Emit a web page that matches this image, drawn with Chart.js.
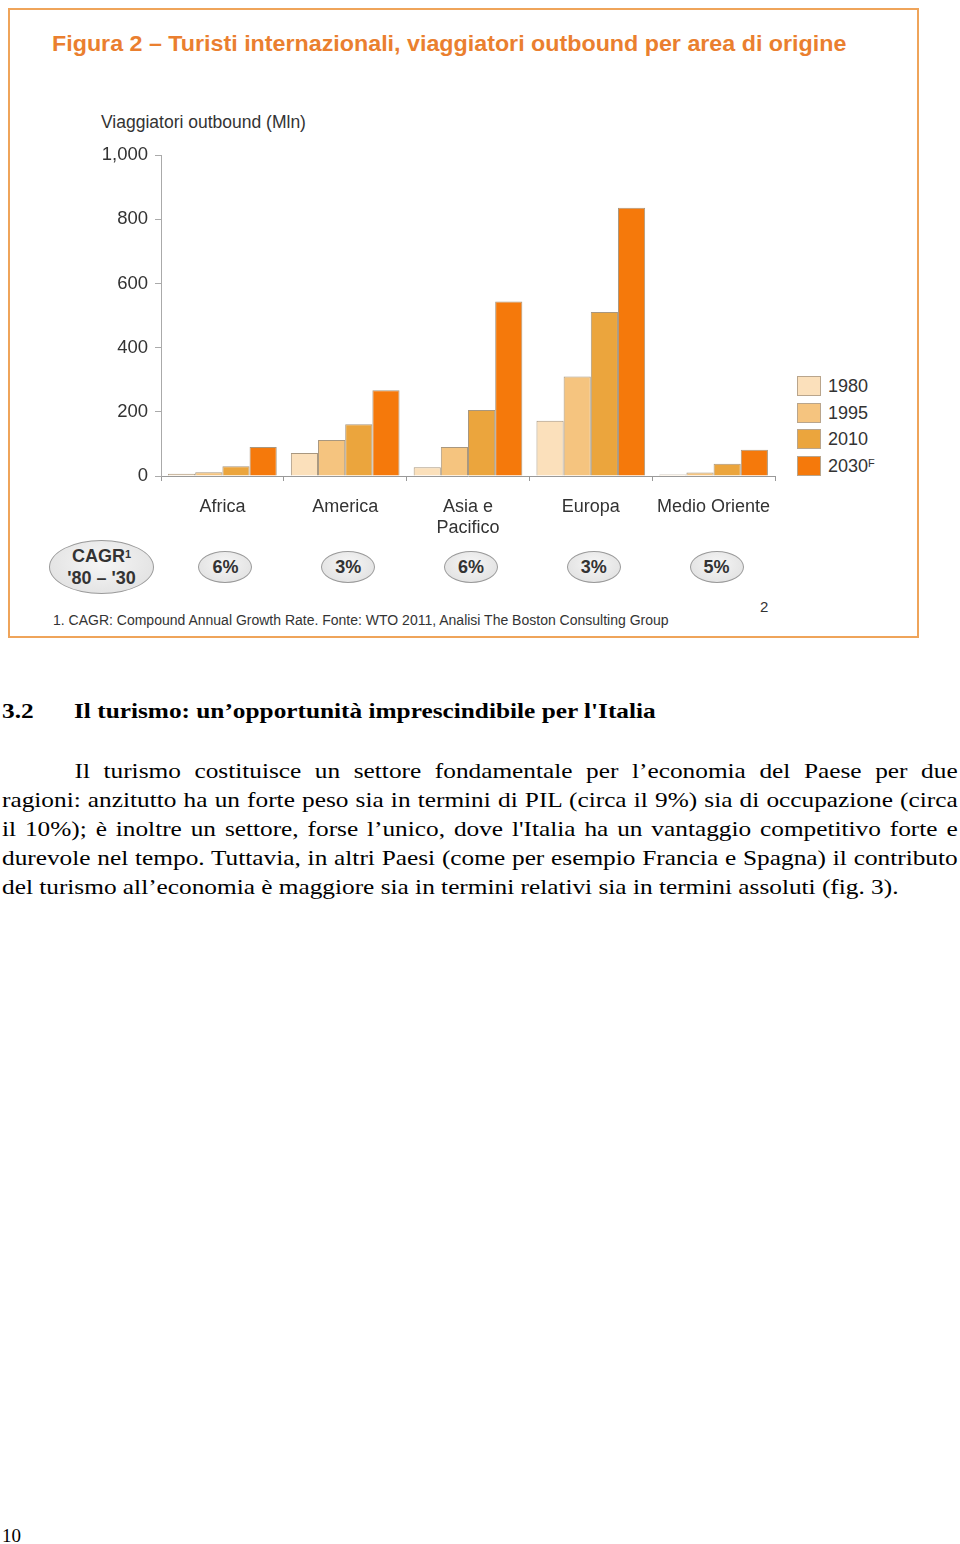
<!DOCTYPE html>
<html>
<head>
<meta charset="utf-8">
<script src="https://cdn.jsdelivr.net/npm/chart.js@4"></script>
<style>
  body { margin: 0; width: 960px; height: 1544px; background: #fff; position: relative; font-family: "Liberation Sans", Arial, sans-serif; }
  .frame { position: absolute; left: 8px; top: 8px; width: 907px; height: 626px; border: 2px solid #efa45a; }
  .title { position: absolute; left: 52px; top: 31px; font-size: 22px; font-weight: bold; color: #ea7f2f; white-space: nowrap; transform-origin: left top; }
  .ytitle { position: absolute; left: 101px; top: 112px; font-size: 17.5px; color: #333; white-space: nowrap; }
  #wrap { position: absolute; left: 90px; top: 137px; width: 700px; height: 403px; }
  .legend { position: absolute; left: 797px; font-size: 18px; color: #333; }
  .legend .item { position: absolute; left: 0; width: 90px; height: 21px; }
  .legend .sw { position: absolute; left: 0; top: 0; width: 24px; height: 20px; border: 1px solid #b9a58c; box-sizing: border-box; }
  .legend .lb { position: absolute; left: 31px; top: 0; line-height: 21px; }
  .legend sup { font-size: 11px; position: relative; top: -3px; vertical-align: top; }
  .bubble { position: absolute; border-radius: 50%; border: 1px solid #9a9a9a; background: radial-gradient(ellipse at 50% 40%, #f6f6f6 0%, #e2e2e2 80%, #d4d4d4 100%); display: flex; align-items: center; justify-content: center; text-align: center; font-weight: bold; color: #333; font-size: 18px; line-height: 22px; box-sizing: border-box; }
  .bubble sup { font-size: 11px; position: relative; top: -2px; vertical-align: top; }
  .foot { position: absolute; left: 53px; top: 612px; font-size: 14px; color: #333; white-space: nowrap; }
  .pnum { position: absolute; left: 760px; top: 598px; font-size: 15px; color: #333; }
  .serif { font-family: "Liberation Serif", "Times New Roman", serif; color: #000; }
  .heading { position: absolute; top: 698px; font-size: 22px; font-weight: bold; white-space: nowrap; transform-origin: left top; transform: scaleX(1.15); }
  .para { position: absolute; left: 2px; top: 756px; width: 831px; font-size: 22px; transform-origin: left top; transform: scaleX(1.15); }
  .para div { height: 29px; line-height: 29px; text-align: justify; text-align-last: justify; white-space: nowrap; }
  .para div.last { text-align-last: left; }
  .page { position: absolute; left: 2px; top: 1525px; font-size: 19px; }
</style>
</head>
<body>
<div class="frame"></div>
<div class="title" id="title">Figura 2 – Turisti internazionali, viaggiatori outbound per area di origine</div>
<div class="ytitle">Viaggiatori outbound (Mln)</div>
<div id="wrap"><canvas id="chart"></canvas></div>
<div class="legend" id="legend"></div>
<div id="bubbles"></div>
<div class="foot">1. CAGR: Compound Annual Growth Rate. Fonte: WTO 2011, Analisi The Boston Consulting Group</div>
<div class="pnum">2</div>

<div class="heading serif" style="left:2px">3.2</div>
<div class="heading serif" style="left:74px">Il turismo: un’opportunità imprescindibile per l'Italia</div>
<div class="para serif">
  <div style="padding-left:63px">Il turismo costituisce un settore fondamentale per l’economia del Paese per due</div>
  <div>ragioni: anzitutto ha un forte peso sia in termini di PIL (circa il 9%) sia di occupazione (circa</div>
  <div>il 10%); è inoltre un settore, forse l’unico, dove l'Italia ha un vantaggio competitivo forte e</div>
  <div>durevole nel tempo. Tuttavia, in altri Paesi (come per esempio Francia e Spagna) il contributo</div>
  <div class="last">del turismo all’economia è maggiore sia in termini relativi sia in termini assoluti (fig. 3).</div>
</div>
<div class="page serif">10</div>

<script>
// dati (milioni di viaggiatori)
const categories = ['Africa', 'America', ['Asia e', 'Pacifico'], 'Europa', 'Medio Oriente'];
const years = ['1980', '1995', '2010', '2030'];
const v1980 = [7, 72, 27, 172, 5];
const v1995 = [12, 112, 90, 310, 11];
const v2010 = [30, 161, 206, 511, 38];
const v2030 = [90, 267, 544, 836, 82];
const yTicks = [0, 200, 400, 600, 800, 1000];
const cagr = ['6%', '3%', '6%', '3%', '5%'];

const colors = ['#fbe0bb', '#f5c47f', '#eba53d', '#f5790b'];
const values = [v1980, v1995, v2010, v2030];

// titolo: stessa larghezza del riferimento
const title = document.getElementById('title');
title.style.transform = `scaleX(${794 / title.scrollWidth})`;

const ctx = document.getElementById('chart').getContext('2d');
const chart = new Chart(ctx, {
  type: 'bar',
  data: {
    labels: categories,
    datasets: years.map((y, i) => ({
      label: y,
      data: values[i],
      backgroundColor: colors[i],
      borderColor: '#a8977f',
      borderWidth: 1,
      borderSkipped: 'bottom'
    }))
  },
  options: {
    responsive: true,
    maintainAspectRatio: false,
    animation: false,
    devicePixelRatio: 1,
    layout: { padding: { top: 12, right: 15, bottom: 0, left: 0 } },
    plugins: { legend: { display: false }, tooltip: { enabled: false } },
    datasets: { bar: { categoryPercentage: 0.885, barPercentage: 1 } },
    scales: {
      x: {
        grid: { display: true, offset: true, drawOnChartArea: false, tickLength: 5, color: '#999' },
        border: { color: '#999' },
        ticks: { color: '#333', font: { family: 'Liberation Sans', size: 18 }, padding: 15, maxRotation: 0, autoSkip: false },
        afterFit: s => { s.height = 64; }
      },
      y: {
        min: 0,
        max: 1000,
        afterBuildTicks: s => { s.ticks = yTicks.map(v => ({ value: v })); },
        grid: { display: true, drawOnChartArea: false, tickLength: 6, color: '#aaa' },
        border: { color: '#aaa' },
        ticks: {
          color: '#333', font: { family: 'Liberation Sans', size: 18.5 }, padding: 7,
          callback: v => v.toLocaleString('en-US')
        },
        afterFit: s => { s.width = 71; }
      }
    }
  }
});

// legenda
const legend = document.getElementById('legend');
years.forEach((y, i) => {
  const item = document.createElement('div');
  item.className = 'item';
  item.style.top = (376 + i * 26.7) + 'px';
  item.innerHTML = `<div class="sw" style="background:${colors[i]}"></div><div class="lb">${y}${i === 3 ? '<sup>F</sup>' : ''}</div>`;
  legend.appendChild(item);
});

// bolle CAGR
const bubbles = document.getElementById('bubbles');
const big = document.createElement('div');
big.className = 'bubble';
Object.assign(big.style, { left: '49px', top: '540px', width: '105px', height: '54px' });
big.innerHTML = '<span>CAGR<sup>1</sup><br>\'80 – \'30</span>';
bubbles.appendChild(big);

const xs = chart.scales.x;
const left0 = document.getElementById('wrap').offsetLeft;
cagr.forEach((c, i) => {
  const cx = left0 + xs.getPixelForValue(i) + 3;
  const b = document.createElement('div');
  b.className = 'bubble';
  Object.assign(b.style, { left: (cx - 27) + 'px', top: '551px', width: '54px', height: '32px' });
  b.textContent = c;
  bubbles.appendChild(b);
});
</script>
</body>
</html>
